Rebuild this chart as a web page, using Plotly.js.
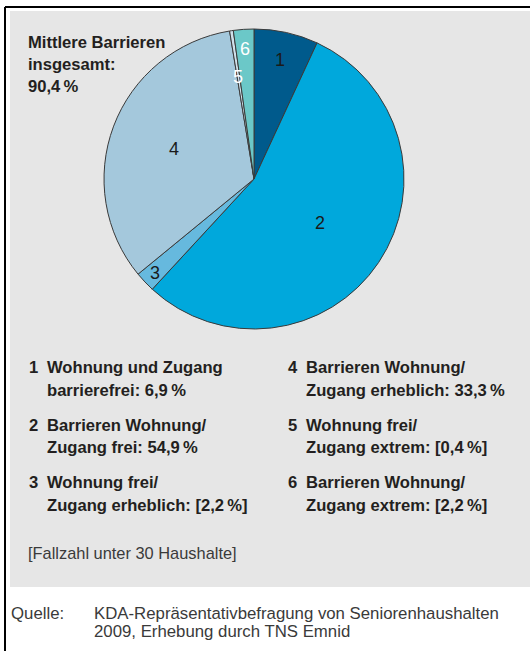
<!DOCTYPE html>
<html>
<head>
<meta charset="utf-8">
<script src="https://cdn.plot.ly/plotly-3.0.1.min.js"></script>
<style>html,body{margin:0;padding:0;background:#fff;}#chart{width:530px;height:651px;}</style>
</head>
<body>
<div id="chart"></div>
<script>
// Data
const sliceNumbers = ["1", "2", "3", "4", "5", "6"];
const sliceValues = [6.9, 54.9, 2.2, 33.3, 0.4, 2.2];
const legendLine1 = ["Wohnung und Zugang", "Barrieren Wohnung/", "Wohnung frei/", "Barrieren Wohnung/", "Wohnung frei/", "Barrieren Wohnung/"];
const legendLine2 = ["barrierefrei: 6,9\u202f%", "Zugang frei: 54,9\u202f%", "Zugang erheblich: [2,2\u202f%]", "Zugang erheblich: 33,3\u202f%", "Zugang extrem: [0,4\u202f%]", "Zugang extrem: [2,2\u202f%]"];
const totalLabel = ["Mittlere Barrieren", "insgesamt:", "90,4\u202f%"];
const footnote = "[Fallzahl unter 30 Haushalte]";
const sourceLabel = "Quelle:";
const sourceText = ["KDA-Repräsentativbefragung von Seniorenhaushalten", "2009, Erhebung durch TNS Emnid"];

// Styles
const sliceColors = ["#005a8c", "#00a8dc", "#66b9de", "#a4c8dc", "#cfe0ea", "#6bc8c8"];
const labelColors = ["#1a1a1a", "#1a1a1a", "#1a1a1a", "#1a1a1a", "#ffffff", "#ffffff"];
const labelRadius = [0.81, 0.53, 0.91, 0.57, 0.69, 0.87];

const W = 530, H = 651;
const cx = 254, cy = 179, R = 150;
const px = x => x / W;
const py = y => 1 - y / H;

const textFont = {family: "Liberation Sans, Arial, sans-serif", size: 16.6, color: "#231f20", weight: "bold"};
const lightFont = {family: "Liberation Sans, Arial, sans-serif", size: 16.4, color: "#3a3a3a"};
const sourceFont = {family: "Liberation Sans, Arial, sans-serif", size: 16.8, color: "#3a3a3a"};

const annotations = [];
function addText(text, x, y, font) {
  annotations.push({text: text, xref: "paper", yref: "paper", x: px(x), y: py(y),
    xanchor: "left", yanchor: "middle", showarrow: false, font: font});
}

// Slice number labels placed from cumulative values
const total = sliceValues.reduce((a, b) => a + b, 0);
let cum = 0;
sliceValues.forEach((v, i) => {
  const mid = (cum + v / 2) / total * 2 * Math.PI;
  cum += v;
  const r = labelRadius[i] * R;
  annotations.push({text: sliceNumbers[i], xref: "paper", yref: "paper",
    x: px(cx + r * Math.sin(mid)), y: py(cy - r * Math.cos(mid)),
    xanchor: "center", yanchor: "middle", showarrow: false,
    font: {family: "Liberation Sans, Arial, sans-serif", size: 18, color: labelColors[i]}});
});

// Top-left label
const tlY = [43, 65, 87];
totalLabel.forEach((t, i) => addText(t, 26, tlY[i], textFont));

// Legend
const rowY = [[367, 390], [425, 447], [482, 505]];
const colX = [[27, 45], [286, 304]];
for (let i = 0; i < 6; i++) {
  const col = Math.floor(i / 3), row = i % 3;
  addText(sliceNumbers[i], colX[col][0], rowY[row][0], textFont);
  addText(legendLine1[i], colX[col][1], rowY[row][0], textFont);
  addText(legendLine2[i], colX[col][1], rowY[row][1], textFont);
}
addText(footnote, 26, 553, lightFont);
addText(sourceLabel, 9, 613, sourceFont);
addText(sourceText[0], 92, 613, sourceFont);
addText(sourceText[1], 92, 631, sourceFont);

const data = [{
  type: "pie",
  values: sliceValues,
  labels: sliceNumbers,
  sort: false,
  direction: "clockwise",
  rotation: 0,
  textinfo: "none",
  hoverinfo: "label+percent",
  marker: {colors: sliceColors, line: {color: "#3a3a3a", width: 1}},
  domain: {x: [px(cx - R), px(cx + R)], y: [py(cy + R), py(cy - R)]},
  showlegend: false
}];

const layout = {
  width: W, height: H,
  margin: {l: 0, r: 0, t: 0, b: 0},
  paper_bgcolor: "#ffffff",
  showlegend: false,
  shapes: [
    {type: "rect", xref: "paper", yref: "paper", x0: px(10), x1: 1.05, y0: py(587), y1: py(11),
      fillcolor: "#e6e6e6", line: {width: 0}, layer: "below"},
    {type: "line", xref: "paper", yref: "paper", x0: px(5), x1: 1.05, y0: py(7), y1: py(7),
      line: {color: "#000000", width: 2}},
    {type: "line", xref: "paper", yref: "paper", x0: px(5), x1: px(5), y0: py(7), y1: -0.05,
      line: {color: "#000000", width: 2}}
  ],
  annotations: annotations
};

Plotly.newPlot("chart", data, layout, {displayModeBar: false, staticPlot: true});
</script>
</body>
</html>
